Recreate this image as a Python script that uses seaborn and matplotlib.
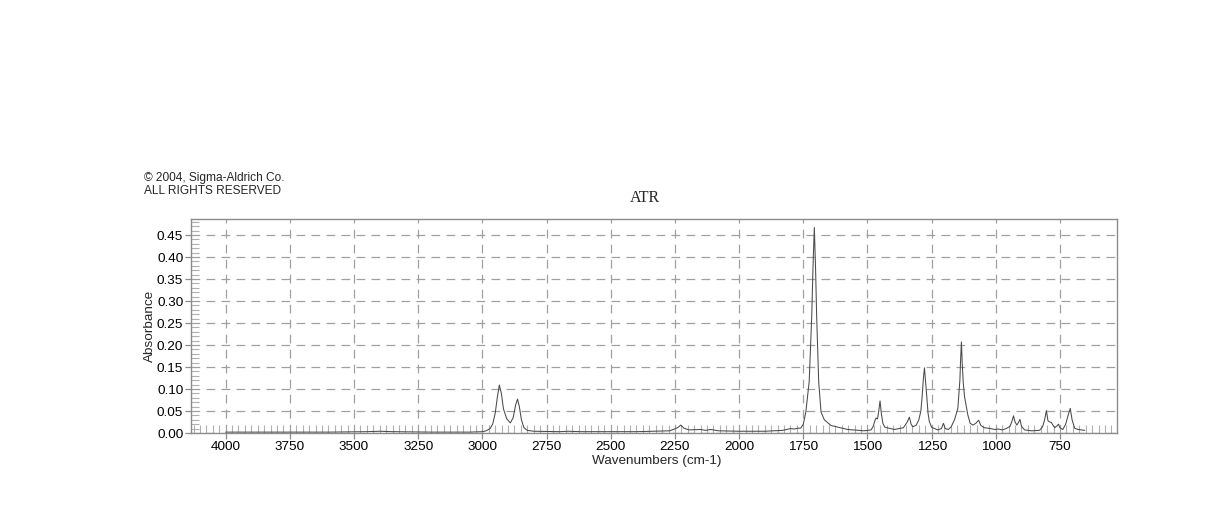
import numpy as np
import pandas as pd
import seaborn as sns
import matplotlib
matplotlib.use("Agg")
import matplotlib.pyplot as plt
from matplotlib.ticker import MultipleLocator

# spectrum (wavenumber cm-1, absorbance)
wavenumber = [
    4000, 3800, 3600, 3450, 3400, 3350, 3200, 3050, 3000, 2985,
    2970, 2960, 2950, 2942, 2934, 2926, 2918, 2905, 2891, 2880,
    2870, 2863, 2856, 2848, 2838, 2825, 2800, 2700, 2665, 2620,
    2400, 2270, 2240, 2227, 2215, 2195, 2150, 2130, 2110, 2080,
    2000, 1900, 1830, 1800, 1785, 1770, 1760, 1750, 1740, 1727,
    1717, 1712, 1707, 1702, 1698, 1690, 1681, 1668, 1642, 1577,
    1513, 1486, 1478, 1470, 1466, 1461, 1456, 1451, 1446, 1440,
    1432, 1395, 1360, 1345, 1337, 1330, 1323, 1310, 1300, 1292,
    1287, 1282, 1278, 1274, 1269, 1264, 1259, 1250, 1226, 1212,
    1204, 1197, 1185, 1174, 1161, 1148, 1140, 1137, 1134, 1131,
    1127, 1122, 1109, 1100, 1089, 1078, 1067, 1058, 1045, 1020,
    1005, 990, 975, 960, 945, 938, 931, 925, 918, 911,
    906, 900, 888, 860, 830, 818, 810, 803, 797, 790,
    784, 771, 762, 756, 750, 739, 728, 720, 710, 703,
    693, 680, 667, 654,
]
absorbance = [
    0.002, 0.002, 0.002, 0.003, 0.004, 0.003, 0.002, 0.002, 0.003, 0.005,
    0.010, 0.020, 0.045, 0.080, 0.109, 0.090, 0.055, 0.032, 0.023, 0.035,
    0.065, 0.077, 0.060, 0.030, 0.012, 0.006, 0.004, 0.003, 0.004, 0.003,
    0.003, 0.005, 0.012, 0.018, 0.011, 0.007, 0.008, 0.006, 0.008, 0.005,
    0.004, 0.004, 0.006, 0.010, 0.009, 0.011, 0.011, 0.020, 0.048, 0.117,
    0.267, 0.380, 0.467, 0.370, 0.267, 0.117, 0.048, 0.030, 0.017, 0.008,
    0.005, 0.007, 0.015, 0.030, 0.034, 0.032, 0.050, 0.073, 0.045, 0.022,
    0.013, 0.008, 0.012, 0.025, 0.036, 0.020, 0.014, 0.018, 0.030, 0.050,
    0.083, 0.125, 0.148, 0.120, 0.083, 0.045, 0.026, 0.013, 0.007, 0.010,
    0.022, 0.010, 0.008, 0.014, 0.030, 0.056, 0.120, 0.170, 0.207, 0.160,
    0.115, 0.083, 0.041, 0.022, 0.018, 0.022, 0.029, 0.017, 0.012, 0.010,
    0.008, 0.009, 0.007, 0.010, 0.015, 0.025, 0.039, 0.025, 0.018, 0.025,
    0.031, 0.015, 0.007, 0.005, 0.006, 0.014, 0.030, 0.051, 0.028, 0.025,
    0.024, 0.012, 0.016, 0.020, 0.012, 0.008, 0.020, 0.037, 0.056, 0.030,
    0.011, 0.008, 0.007, 0.006,
]

x_ticks = [4000, 3750, 3500, 3250, 3000, 2750, 2500, 2250, 2000, 1750, 1500, 1250, 1000, 750]
y_ticks = [0.00, 0.05, 0.10, 0.15, 0.20, 0.25, 0.30, 0.35, 0.40, 0.45]

df = pd.DataFrame({"wn": wavenumber, "abs": absorbance})

sns.set_style("white")
plt.rcParams['font.family'] = ['Liberation Sans', 'DejaVu Sans']

fig = plt.figure(figsize=(12.18, 5.28), dpi=100)
ax = fig.add_axes([191 / 1218, 95 / 528, 926 / 1218, 214 / 528])

sns.lineplot(data=df, x="wn", y="abs", ax=ax, sort=False, estimator=None,
             color="#4a4a4a", linewidth=0.75)

ax.set_xlim(4135, 528)
ax.set_ylim(0, 0.4864)
ax.set_xticks(x_ticks)
ax.set_xticklabels([str(t) for t in x_ticks])
ax.set_yticks(y_ticks)
ax.set_yticklabels([f"{t:.2f}" for t in y_ticks])
ax.xaxis.set_minor_locator(MultipleLocator(25))
ax.yaxis.set_minor_locator(MultipleLocator(0.01))

gray = "#8c8c8c"
for sp in ax.spines.values():
    sp.set_color(gray)
    sp.set_linewidth(1.0)
ax.tick_params(axis="x", which="both", bottom=True, top=False)
ax.tick_params(axis="y", which="both", left=True, right=False)
ax.tick_params(axis="both", which="major", direction="out", length=4,
               width=0.9, color=gray, labelsize=9.7, labelcolor="black", pad=1.5)
ax.tick_params(axis="both", which="minor", direction="in", length=5.5,
               width=0.8, color="#b0b0b0")

ax.grid(True, which="major", color="#a0a0a0", linestyle=(0, (7, 5)), linewidth=0.9)
ax.set_axisbelow(True)

ax.set_xlabel("")
ax.set_ylabel("")
fig.text(657 / 1218, 1 - 461 / 528, "Wavenumbers (cm-1)", ha="center", va="center",
         fontsize=9.7)
fig.text(150 / 1218, 1 - 326 / 528, "Absorbance", ha="center", va="center",
         rotation=90, fontsize=9.7)
fig.text(645 / 1218, 1 - 198 / 528, "ATR", ha="center", va="center",
         fontsize=11.5, family=["Liberation Serif", "DejaVu Serif"])
fig.text(144 / 1218, 1 - 178 / 528, "\u00a9 2004, Sigma-Aldrich Co.", ha="left",
         va="center", fontsize=8.6)
fig.text(144 / 1218, 1 - 190.5 / 528, "ALL RIGHTS RESERVED", ha="left",
         va="center", fontsize=8.6)

fig.savefig("out.png", dpi=100, facecolor="white")
